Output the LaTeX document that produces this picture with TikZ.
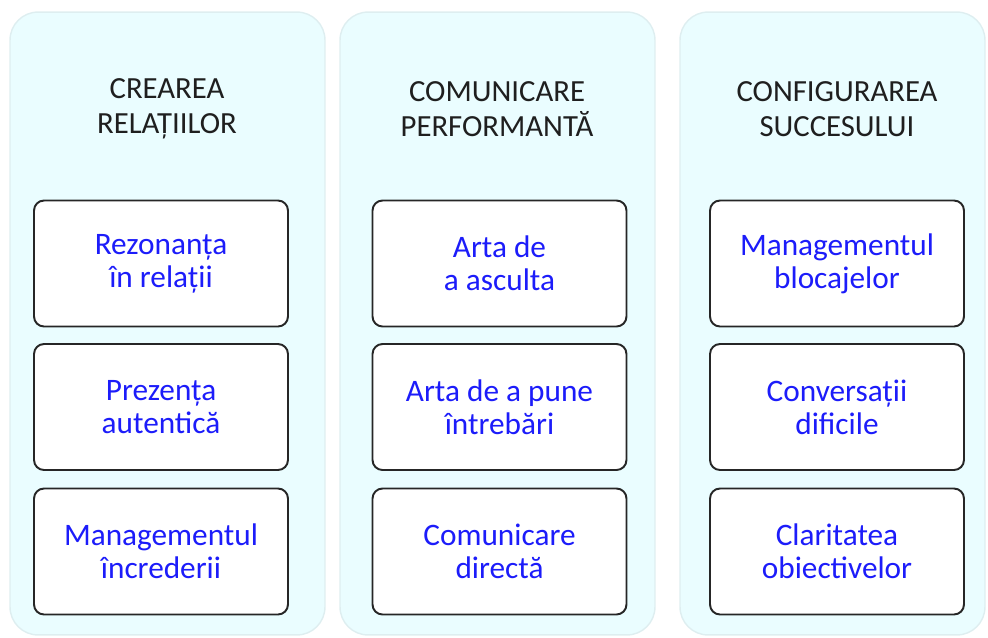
\documentclass[tikz,border=0pt]{standalone}
\usepackage{fontspec}
\setmainfont{Carlito}
\usetikzlibrary{positioning}
\definecolor{panelfill}{RGB}{234,253,255}
\definecolor{panelline}{RGB}{222,238,240}
\definecolor{itemblue}{RGB}{28,28,250}
\definecolor{itemline}{RGB}{38,38,38}
\tikzset{
  panel/.style={rectangle, rounded corners=0.56cm, fill=panelfill,
    draw=panelline, line width=0.8pt, minimum height=12.46cm},
  heading/.style={align=center, text=black!88,
    font=\fontsize{17.5}{20}\selectfont},
  item/.style={rectangle, rounded corners=0.2cm, fill=white, draw=itemline,
    line width=1.1pt, minimum width=5.08cm, minimum height=2.52cm,
    align=center, text=itemblue, font=\fontsize{17.8}{18.8}\selectfont},
}

\begin{document}
\begin{tikzpicture}[x=0.02cm, y=-0.02cm]
      \useasboundingbox (0,0) rectangle (988,637);
      % columns
      \node[panel, minimum width=6.3cm] (relpanel) at (167.5,323.5) {};
      \node[panel, minimum width=6.3cm] (companel) at (497.5,323.5) {};
      \node[panel, minimum width=6.1cm] (sucpanel) at (832.5,323.5) {};
      % headings
      \node[heading] (relhead) at (167,109) {CREAREA\\RELAȚIILOR};
      \node[heading] (comhead) at (497,109) {COMUNICARE\\PERFORMANTĂ};
      \node[heading] (suchead) at (837,109) {CONFIGURAREA\\SUCCESULUI};
      % first column
      \node[item] (rezonanta) at (161,263.5) {Rezonanța\\în relații};
      \node[item] (prezenta) at (161,407) {Prezența\\autentică};
      \node[item] (incredere) at (161,551.5) {Managementul\\încrederii};
      % second column
      \node[item] (ascultare) at (499.5,263.5) {Arta de\\a asculta};
      \node[item] (intrebari) at (499.5,407) {Arta de a pune\\întrebări};
      \node[item] (directa) at (499.5,551.5) {Comunicare\\directă};
      % third column
      \node[item] (blocaje) at (837,263.5) {Managementul\\blocajelor};
      \node[item] (dificile) at (837,407) {Conversații\\dificile};
      \node[item] (claritate) at (837,551.5) {Claritatea\\obiectivelor};
\end{tikzpicture}
\end{document}
